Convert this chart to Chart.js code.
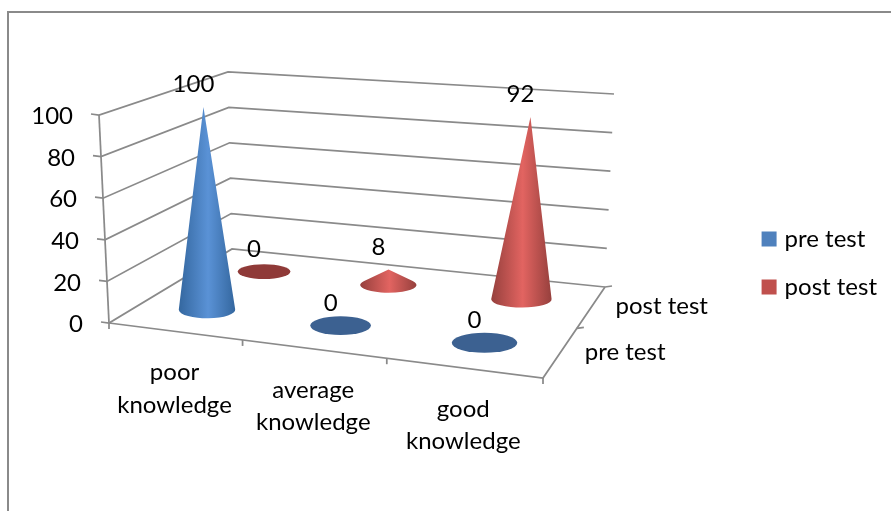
<!DOCTYPE html>
<html>
<head>
<meta charset="utf-8">
<style>
  html, body { margin: 0; background: #fff; }
  canvas { display: block; }
</style>
<script src="https://cdn.jsdelivr.net/npm/chart.js@4"></script>
</head>
<body>
<canvas id="coneChart" width="891" height="511"></canvas>
<script>
const categories = [["poor", "knowledge"], ["average", "knowledge"], ["good", "knowledge"]];
const seriesNames = ["pre test", "post test"];
const preTest = [100, 0, 0];
const postTest = [0, 8, 92];
const valueTicks = [0, 20, 40, 60, 80, 100];

const FONT = "Lato, sans-serif";
const FONT_SIZE = 24;
const LINE = "#8a8a8a";

// corners of the 3d box: front left, front right, back right, back left
const floorQuad = [[109, 323], [543, 378], [605, 287], [232, 249]];
const topQuad = [[99, 115], [578, 151], [614, 94], [228, 72]];

// series look: base colour for the legend, shaded colours for the cones
const seriesColors = ["#4f81bd", "#c0504d"];
const coneShades = [
  { edge: "#34679f", mid: "#5a92d6", flat: "#3c6191" },
  { edge: "#96403d", mid: "#e26461", flat: "#8f3a38" },
];

function quadMapper(q) {
  const [[x0, y0], [x1, y1], [x2, y2], [x3, y3]] = q;
  const dx1 = x1 - x2, dx2 = x3 - x2, sx = x0 - x1 + x2 - x3;
  const dy1 = y1 - y2, dy2 = y3 - y2, sy = y0 - y1 + y2 - y3;
  const den = dx1 * dy2 - dx2 * dy1;
  const g = (sx * dy2 - dx2 * sy) / den;
  const h = (dx1 * sy - sx * dy1) / den;
  const a = x1 - x0 + g * x1, b = x3 - x0 + h * x3;
  const d = y1 - y0 + g * y1, e = y3 - y0 + h * y3;
  return (u, v) => {
    const w = g * u + h * v + 1;
    return [(a * u + b * v + x0) / w, (d * u + e * v + y0) / w];
  };
}
const floorAt = quadMapper(floorQuad);
const topAt = quadMapper(topQuad);

// u along categories, v into depth, h up the value axis (all 0..1)
function project(u, v, h) {
  const f = floorAt(u, v), t = topAt(u, v);
  return [f[0] + (t[0] - f[0]) * h, f[1] + (t[1] - f[1]) * h];
}

function depthOf(i) {
  return (i + 0.5) / seriesNames.length;
}

function decimalOf(scale, value) {
  return scale.getDecimalForPixel(scale.getPixelForValue(value));
}

function strokePath(ctx, pts) {
  ctx.beginPath();
  pts.forEach((p, i) => (i ? ctx.lineTo(p[0], p[1]) : ctx.moveTo(p[0], p[1])));
  ctx.stroke();
}

function drawCone(ctx, u, v, h, shade) {
  const c = project(u, v, 0);
  const rx = (project(u + 0.073, v, 0)[0] - project(u - 0.073, v, 0)[0]) / 2;
  const ry = (project(u, v - 0.105, 0)[1] - project(u, v + 0.105, 0)[1]) / 2;
  if (h === 0) {
    ctx.fillStyle = shade.flat;
    ctx.beginPath();
    ctx.ellipse(c[0], c[1], rx, ry, 0, 0, Math.PI * 2);
    ctx.fill();
    return;
  }
  const apex = project(u, v, h);
  // silhouette: tangents from the tip to the base ellipse, then the front arc
  let left = Math.PI, right = 0, best = [Infinity, -Infinity];
  for (let i = 0; i <= 360; i++) {
    const t = (i / 360) * Math.PI * 2;
    const px = c[0] + rx * Math.cos(t) - apex[0];
    const py = c[1] + ry * Math.sin(t) - apex[1];
    const a = Math.atan2(px, py);
    if (a > best[1]) { best[1] = a; right = t; }
    if (a < best[0]) { best[0] = a; left = t; }
  }
  const grad = ctx.createLinearGradient(c[0] - rx, 0, c[0] + rx, 0);
  grad.addColorStop(0, shade.edge);
  grad.addColorStop(0.52, shade.mid);
  grad.addColorStop(1, shade.edge);
  ctx.fillStyle = grad;
  ctx.beginPath();
  ctx.moveTo(apex[0], apex[1]);
  ctx.ellipse(c[0], c[1], rx, ry, 0, right, left, false);
  ctx.closePath();
  ctx.fill();
}

// bar controller whose elements are painted as cones standing on the box floor
class ConeController extends Chart.BarController {
  draw() {
    const ctx = this.chart.ctx;
    const { x, y } = this.chart.scales;
    const di = this.index;
    this.getMeta().data.forEach((el, i) => {
      const u = decimalOf(x, i);
      const h = decimalOf(y, this.getParsed(i).y);
      drawCone(ctx, u, depthOf(di), h, coneShades[di]);
    });
  }
}
ConeController.id = "cone";
ConeController.defaults = Chart.BarController.defaults;
ConeController.overrides = Chart.BarController.overrides;
Chart.register(ConeController);

const framePlugin = {
  id: "frame",
  beforeDraw(chart) {
    const ctx = chart.ctx;
    ctx.save();
    ctx.fillStyle = "#fff";
    ctx.fillRect(0, 0, chart.width, chart.height);
    ctx.strokeStyle = LINE;
    ctx.lineWidth = 2;
    strokePath(ctx, [[8, chart.height], [8, 12], [chart.width, 12]]);
    ctx.restore();
  },
};

const boxPlugin = {
  id: "box",
  beforeDatasetsDraw(chart) {
    const ctx = chart.ctx;
    const { y } = chart.scales;
    ctx.save();
    ctx.strokeStyle = LINE;
    ctx.lineWidth = 1.75;
    // value gridlines run along the left wall and then the back wall
    y.ticks.forEach((t) => {
      const h = decimalOf(y, t.value);
      const a = project(0, 0, h);
      strokePath(ctx, [[a[0] - 8, a[1] - 1], a, project(0, 1, h), project(1, 1, h)]);
    });
    strokePath(ctx, [project(0, 0, 0), project(0, 0, 1)]);
    strokePath(ctx, [project(0, 0, 0), project(1, 0, 0), project(1, 1, 0)]);
    // category ticks under the front edge
    for (let i = 0; i <= categories.length; i++) {
      const p = project(i / categories.length, 0, 0);
      strokePath(ctx, [p, [p[0], p[1] + 6]]);
    }
    // depth ticks beside the right edge
    for (let i = 1; i <= seriesNames.length; i++) {
      const p = project(1, i / seriesNames.length, 0);
      strokePath(ctx, [p, [p[0] + 7, p[1] - 1]]);
    }
    ctx.restore();
  },
  afterDatasetsDraw(chart) {
    const ctx = chart.ctx;
    const { x, y } = chart.scales;
    ctx.save();
    ctx.fillStyle = "#000";
    ctx.font = `${FONT_SIZE}px ${FONT}`;
    ctx.textBaseline = "middle";

    // value axis labels follow the slanted front edge of the left wall
    ctx.textAlign = "right";
    y.ticks.forEach((t) => {
      const a = project(0, 0, decimalOf(y, t.value));
      ctx.fillText(String(t.value), a[0] - 26, a[1] + 1.5);
    });

    ctx.textAlign = "center";
    chart.data.datasets.forEach((ds, di) => {
      ds.data.forEach((val, i) => {
        const p = project(decimalOf(x, i), depthOf(di), decimalOf(y, val));
        ctx.fillText(String(val), p[0] - 10, p[1] - 22.5);
      });
    });

    categories.forEach((lines, i) => {
      const p = project(decimalOf(x, i), 0, 0);
      lines.forEach((line, k) => ctx.fillText(line, p[0], p[1] + 41 + k * 32.5));
    });

    ctx.textAlign = "left";
    seriesNames.forEach((name, i) => {
      const p = project(1, depthOf(i), 0);
      ctx.fillText(name, p[0] + 24, p[1]);
    });
    ctx.restore();
  },
};

new Chart(document.getElementById("coneChart"), {
  type: "cone",
  data: {
    labels: categories,
    datasets: [
      // thick swatch border keeps the legend box close to its text
      { label: seriesNames[0], data: preTest, backgroundColor: seriesColors[0], borderColor: seriesColors[0], borderWidth: 8, clip: false },
      { label: seriesNames[1], data: postTest, backgroundColor: seriesColors[1], borderColor: seriesColors[1], borderWidth: 8, clip: false },
    ],
  },
  options: {
    responsive: false,
    animation: false,
    layout: { padding: { left: 73, top: 115, bottom: 188, right: 4 } },
    scales: {
      x: { type: "category", display: false, offset: true },
      y: {
        type: "linear",
        min: valueTicks[0],
        max: valueTicks[valueTicks.length - 1],
        afterBuildTicks(scale) {
          scale.ticks = valueTicks.map((value) => ({ value }));
        },
        grid: { display: false },
        border: { display: false },
        ticks: { display: false },
      },
    },
    plugins: {
      tooltip: { enabled: false },
      legend: {
        position: "right",
        align: "end",
        labels: {
          color: "#000",
          boxWidth: 7,
          boxHeight: 7,
          padding: 24,
          font: { family: FONT, size: FONT_SIZE },
        },
      },
    },
  },
  plugins: [framePlugin, boxPlugin],
});
</script>
</body>
</html>
